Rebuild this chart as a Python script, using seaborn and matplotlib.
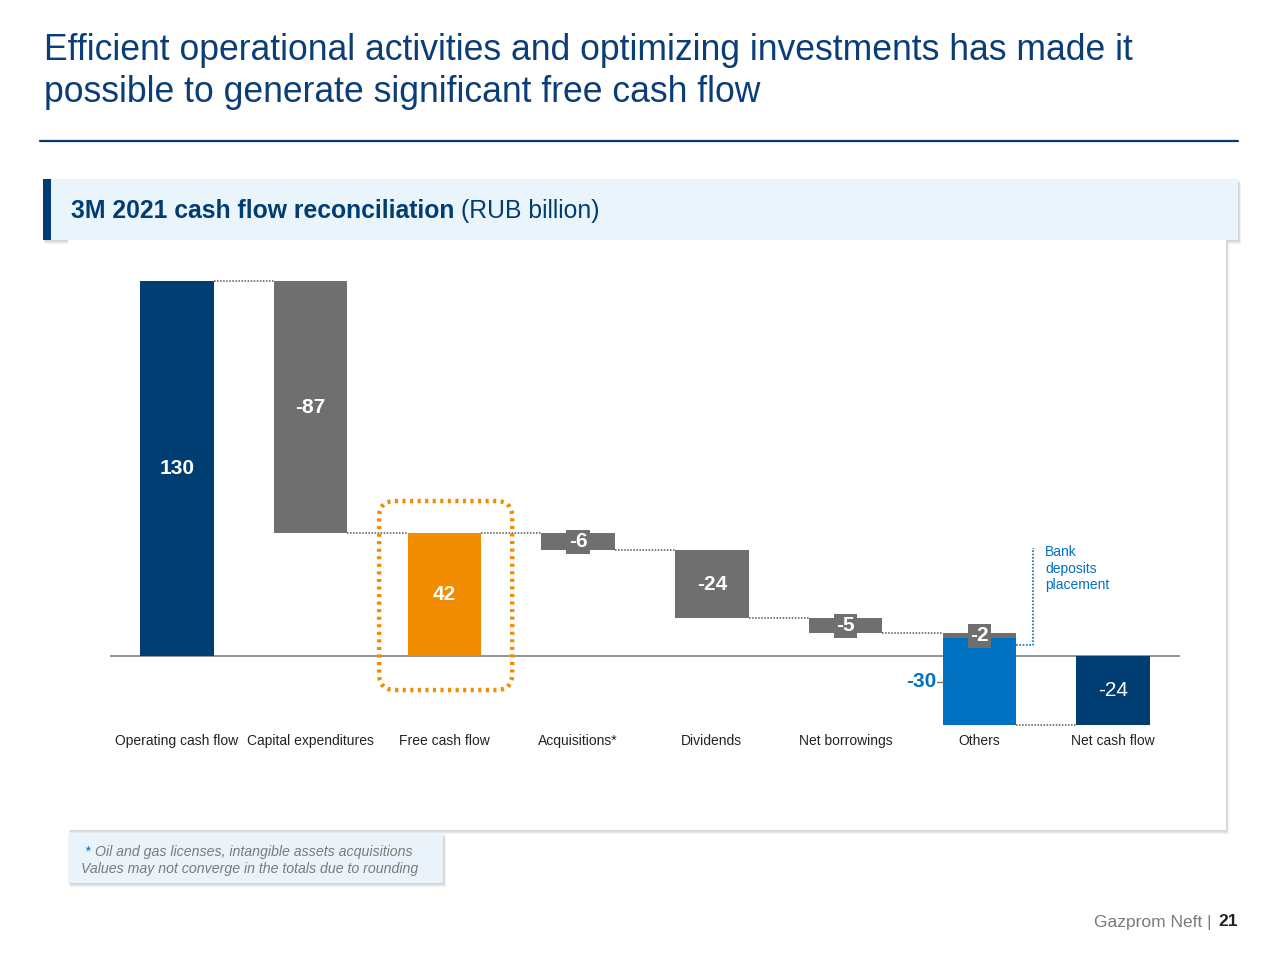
import matplotlib
matplotlib.use("Agg")
import matplotlib.pyplot as plt
import seaborn as sns
import numpy as np
from matplotlib.patches import Rectangle, FancyBboxPatch

categories = ["Operating cash flow", "Capital expenditures", "Free cash flow", "Acquisitions*",
              "Dividends", "Net borrowings", "Others", "Net cash flow"]
amounts = [130.0, -87.4, 42.6, -5.9, -23.6, -5.2, -1.7, -24.0]
is_total = [True, False, True, False, False, False, False, True]
labels = ["130", "-87", "42", "-6", "-24", "-5", "-2", "-24"]
bank_deposits = -30.2
bank_label = "-30"

NAVY = "#003d73"
GRAY = "#6f6f6f"
ORANGE = "#f28c00"
BLUE = "#0070c0"
TITLE = "#0b3d78"
bar_colors = [NAVY, GRAY, ORANGE, GRAY, GRAY, GRAY, GRAY, NAVY]

# waterfall bottoms / running level
bottoms, levels = [], []
level = 0.0
for amt, tot in zip(amounts, is_total):
    if tot:
        bottoms.append(0.0)
        level = amt
    else:
        bottoms.append(level)
        level += amt
    levels.append(level)
others_idx = categories.index("Others")
bank_bottom = levels[others_idx]
levels[others_idx] = bank_bottom + bank_deposits

sns.set_theme(style="white")
plt.rcParams["font.family"] = ["Liberation Sans", "DejaVu Sans"]

fig = plt.figure(figsize=(12.8, 9.6), dpi=100)
fig.patch.set_facecolor("white")

# slide decorations
def frect(x0, y0, x1, y1, color, z, alpha=1.0):
    r = Rectangle((x0 / 1280, 1 - y1 / 960), (x1 - x0) / 1280, (y1 - y0) / 960,
                  transform=fig.transFigure, facecolor=color, edgecolor="none",
                  zorder=z, alpha=alpha)
    fig.add_artist(r)

def panel(x0, y0, x1, y1, color):
    # soft shadow, a few light layers
    for k in range(1, 5):
        frect(x0 + k * 0.6, y0 + k, x1 + k * 0.8, y1 + k, "#9a9a9a", -3, alpha=0.12)
    frect(x0, y0, x1, y1, color, -2)

panel(68, 240, 1226, 830, "white")
panel(43, 179, 1238, 240, "#e9f4fb")
frect(43, 179, 51, 240, NAVY, -1)
panel(68, 833, 443, 883, "#eaf3fa")

fig.text(44 / 1280, 1 - 50 / 960, "Efficient operational activities and optimizing investments has made it",
         color=TITLE, fontsize=25.6, va="center", ha="left")
fig.text(44 / 1280, 1 - 93 / 960, "possible to generate significant free cash flow",
         color=TITLE, fontsize=25.6, va="center", ha="left")
fig.add_artist(plt.Line2D([40 / 1280, 1238 / 1280], [1 - 141 / 960] * 2, transform=fig.transFigure,
                          color=NAVY, lw=1.6))

hdr = fig.text(71 / 1280, 1 - 211 / 960, "3M 2021 cash flow reconciliation", color=NAVY,
               fontsize=17.8, fontweight="bold", va="center", ha="left")

# chart axes
ax = fig.add_axes([110 / 1280, 1 - 731 / 960, 1070 / 1280, (731 - 266.5) / 960])
ax.patch.set_alpha(0)
sns.barplot(x=categories, y=amounts, bottom=bottoms, width=0.55, color=GRAY, saturation=1, ax=ax)
for p, c in zip(ax.patches, bar_colors):
    p.set_facecolor(c)
    p.set_edgecolor("none")
sns.barplot(x=["Others"], y=[bank_deposits], bottom=[bank_bottom], order=categories, width=0.55,
            color=BLUE, saturation=1, ax=ax)
ax.patches[-1].set_edgecolor("none")

w = 0.55
ax.axhline(0, color="#8a8a8a", lw=1.3, zorder=0)
for i in range(len(categories) - 1):
    ax.plot([i + w / 2, i + 1 - w / 2], [levels[i]] * 2, ls=(0, (1, 1)), color="#555555", lw=1.1, zorder=1)

for i, (lab, b, amt) in enumerate(zip(labels, bottoms, amounts)):
    mid = b + amt / 2
    if abs(amt) < 8:
        ax.text(i, mid, lab, ha="center", va="center", color="white", fontsize=15, fontweight="bold",
                bbox=dict(boxstyle="square,pad=0.12", facecolor=GRAY, edgecolor="none"), zorder=4)
    else:
        ax.text(i, mid, lab, ha="center", va="center", color="white", fontsize=15,
                fontweight="normal" if categories[i] == "Net cash flow" else "bold", zorder=4)

bank_mid = bank_bottom + bank_deposits / 2
ax.plot([others_idx - w / 2 - 0.04, others_idx - w / 2], [bank_mid] * 2, color="#777777", lw=1)
ax.text(others_idx - w / 2 - 0.05, bank_mid, bank_label, ha="right", va="center", color=BLUE,
        fontsize=15, fontweight="bold")

# bank deposits bracket
bx = others_idx + w / 2
ax.plot([bx, 6.40, 6.40], [3.8, 3.8, 37.4], ls=(0, (1, 1)), color=BLUE, lw=1.2)
ax.text(6.49, 38.5, "Bank\ndeposits\nplacement", ha="left", va="top", color=BLUE, fontsize=10,
        linespacing=1.25)

# highlight around free cash flow
hl = FancyBboxPatch((1.512, -11.8), 0.995, 65.5, boxstyle="round,pad=0,rounding_size=0.12",
                    mutation_aspect=133.6 / 2.885, facecolor="none", edgecolor=ORANGE,
                    lw=3.2, ls=(0, (0.7, 1.0)), zorder=5)
ax.add_patch(hl)

ax.set_xlim(-0.5, 7.5)
ax.set_ylim(-26, 135)
ax.set_yticks([])
ax.set_xlabel("")
ax.set_ylabel("")
ax.tick_params(axis="x", length=0, pad=2, labelsize=10, labelcolor="#222222")
sns.despine(ax=ax, left=True, bottom=True)

# footnote
fig.text(84 / 1280, 1 - 852 / 960, "*", color=BLUE, fontsize=10.2, style="italic", va="center")
fig.text(95 / 1280, 1 - 852 / 960, "Oil and gas licenses, intangible assets acquisitions",
         color="#7a7a7a", fontsize=10.2, style="italic", va="center")
fig.text(81 / 1280, 1 - 869 / 960, "Values may not converge in the totals due to rounding",
         color="#7a7a7a", fontsize=10.2, style="italic", va="center")

# footer
fig.text(1238 / 1280, 1 - 922 / 960, "21", color="#222222", fontsize=12.5, fontweight="bold",
         ha="right", va="center")
fig.text(1212 / 1280, 1 - 922 / 960, "Gazprom Neft |", color="#7a7a7a", fontsize=12.5,
         ha="right", va="center")

fig.canvas.draw()
bb = hdr.get_window_extent()
fig.text((bb.x1 + 7) / fig.bbox.width, 1 - 211 / 960, "(RUB billion)", color=NAVY, fontsize=17.8,
         va="center", ha="left")

plt.savefig("out.png", dpi=100)
